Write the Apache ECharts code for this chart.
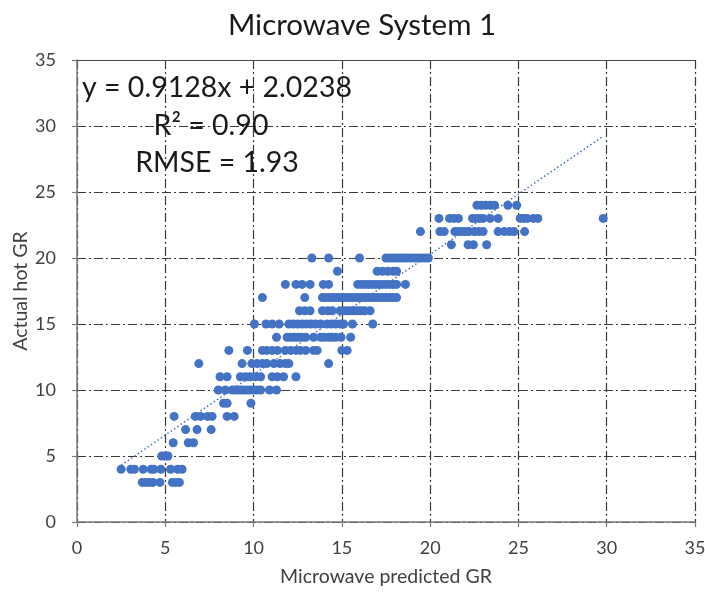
<!DOCTYPE html>
<html>
<head>
<meta charset="utf-8">
<script src="https://cdn.jsdelivr.net/npm/echarts@6/dist/echarts.min.js"></script>
<style>
  html, body { margin: 0; padding: 0; background: #fff; }
  #chart { width: 705px; height: 592px; }
</style>
</head>
<body>
<div id="chart"></div>
<script>
// actual hot GR levels (integer) and the predicted GR values read for each level
const actualLevels = [3, 4, 5, 6, 7, 8, 9, 10, 11, 12, 13, 14, 15, 16, 17, 18, 19, 20, 21, 22, 23, 24];
const predictedByLevel = [
    [3.7, 3.9, 4.1, 4.3, 4.7, 5.4, 5.6, 5.8],
    [2.5, 3.05, 3.25, 3.75, 4.2, 4.35, 4.75, 5.3, 5.7, 5.95],
    [4.8, 5.0, 5.15],
    [5.45, 6.3, 6.6],
    [6.15, 6.8, 7.6],
    [5.5, 6.7, 7.0, 7.4, 7.65, 8.5, 8.9],
    [8.3, 8.5, 9.85],
    [8.0, 8.4, 8.8, 9.0, 9.2, 9.4, 9.6, 9.8, 10.0, 10.2, 10.4, 10.9, 11.3],
    [8.1, 8.5, 9.25, 9.55, 9.8, 10.1, 10.4, 11.05, 11.35, 11.7, 12.4],
    [6.9, 9.35, 9.9, 10.2, 10.5, 10.75, 11.15, 11.5, 11.8, 12.0, 14.25],
    [8.6, 9.65, 10.5, 10.75, 11.05, 11.35, 11.8, 12.1, 12.4, 12.65, 12.95, 13.4, 13.6, 15.0, 15.3],
    [11.3, 11.9, 12.1, 12.3, 12.5, 12.7, 12.95, 13.4, 13.8, 14.0, 14.25, 14.45, 14.65, 14.95, 15.5],
    [10.05, 10.7, 11.05, 11.45, 12.0, 12.25, 12.5, 12.75, 13.0, 13.25, 13.5, 13.8, 14.15, 14.4, 14.65, 14.9, 15.1, 15.6, 16.75],
    [12.6, 12.9, 13.2, 13.9, 14.2, 14.45, 14.9, 15.1, 15.3, 15.5, 15.7, 15.9, 16.1, 16.3, 16.6],
    [10.5, 12.9, 13.9, 14.1, 14.3, 14.5, 14.7, 14.9, 15.1, 15.3, 15.5, 15.7, 15.9, 16.1, 16.3, 16.5, 16.7, 16.9, 17.1, 17.3, 17.5, 17.7, 17.9, 18.1],
    [11.8, 12.4, 12.75, 13.2, 13.95, 14.25, 15.9, 16.1, 16.3, 16.5, 16.7, 16.9, 17.1, 17.3, 17.5, 17.7, 17.9, 18.1, 18.6],
    [14.75, 17.0, 17.3, 17.6, 17.9, 18.1],
    [13.3, 14.25, 16.0, 17.5, 17.7, 17.9, 18.1, 18.3, 18.5, 18.7, 18.9, 19.1, 19.3, 19.5, 19.7, 19.9],
    [21.2, 22.15, 22.45, 23.2],
    [19.45, 20.55, 20.8, 21.4, 21.6, 21.8, 22.0, 22.2, 22.5, 22.75, 23.0, 23.85, 24.2, 24.5, 24.75, 25.35],
    [20.5, 21.1, 21.35, 21.6, 22.4, 22.6, 22.8, 23.0, 23.4, 23.85, 25.1, 25.3, 25.5, 25.85, 26.1, 29.8],
    [22.65, 22.9, 23.15, 23.4, 23.65, 24.4, 24.9]
];
// linear trend line y = slope * x + intercept, drawn over this x range
const slope = 0.9128;
const intercept = 2.0238;
const trendRange = [2.5, 29.8];
const annotationLines = ['y = 0.9128x + 2.0238', 'R² = 0.90', 'RMSE = 1.93'];

const points = [];
for (let i = 0; i < actualLevels.length; i++) {
    for (const x of predictedByLevel[i]) {
        points.push([x, actualLevels[i]]);
    }
}
const trend = trendRange.map(x => [x, slope * x + intercept]);

const font = 'Lato, "Open Sans", sans-serif';
const gridLine = {
    show: true,
    lineStyle: { color: '#3a3a3a', width: 1.2, type: [9, 3, 2, 3] }
};
const axisLine = { show: true, lineStyle: { color: '#7a7a7a', width: 1.5 } };
const tickStyle = { show: true, length: 5, lineStyle: { color: '#7a7a7a', width: 1.2 } };
const labelStyle = { color: '#404040', fontSize: 18, fontFamily: font };
const nameStyle = { color: '#404040', fontSize: 19.5, fontFamily: font };

const chart = echarts.init(document.getElementById('chart'), null, { renderer: 'canvas' });
chart.setOption({
    backgroundColor: '#fff',
    animation: false,
    title: {
        text: 'Microwave System 1',
        left: 357,
        textAlign: 'center',
        top: 5,
        textStyle: { color: '#1a1a1a', fontSize: 29.5, fontWeight: 'normal', fontFamily: font }
    },
    grid: { left: 77, right: 10, top: 60, bottom: 70, containLabel: false, outerBoundsMode: 'none' },
    xAxis: [{
        type: 'value',
        min: 0, max: 35, interval: 5,
        name: 'Microwave predicted GR',
        nameLocation: 'middle',
        nameGap: 45,
        nameMoveOverlap: false,
        nameTextStyle: nameStyle,
        axisLine: axisLine,
        axisTick: tickStyle,
        axisLabel: Object.assign({ margin: 17 }, labelStyle),
        splitLine: gridLine
    }, {
        type: 'value',
        position: 'top',
        min: 0, max: 35, interval: 5,
        axisLine: { show: true, lineStyle: { color: '#4a4a4a', width: 1.2 } },
        axisTick: { show: false },
        axisLabel: { show: false },
        splitLine: { show: false }
    }],
    yAxis: {
        type: 'value',
        min: 0, max: 35, interval: 5,
        name: 'Actual hot GR',
        nameLocation: 'middle',
        nameGap: 46,
        nameMoveOverlap: false,
        nameTextStyle: nameStyle,
        axisLine: axisLine,
        axisTick: tickStyle,
        axisLabel: Object.assign({ margin: 21 }, labelStyle),
        splitLine: gridLine
    },
    series: [{
        type: 'scatter',
        data: points,
        symbolSize: 9,
        itemStyle: { color: '#4472C4', opacity: 1 },
        z: 3
    }, {
        type: 'line',
        data: trend,
        symbol: 'none',
        lineStyle: { color: '#4472C4', width: 1.5, type: [1.5, 2.5] },
        z: 4
    }],
    graphic: annotationLines.map((t, i) => ({
        type: 'text',
        x: i === 1 ? 211 : 217,
        y: 88 + i * 37.5,
        z: 10,
        style: {
            text: t,
            textAlign: 'center',
            textVerticalAlign: 'middle',
            verticalAlign: 'middle',
            fill: '#1a1a1a',
            fontSize: 28.5,
            fontFamily: font
        }
    }))
});
</script>
</body>
</html>
